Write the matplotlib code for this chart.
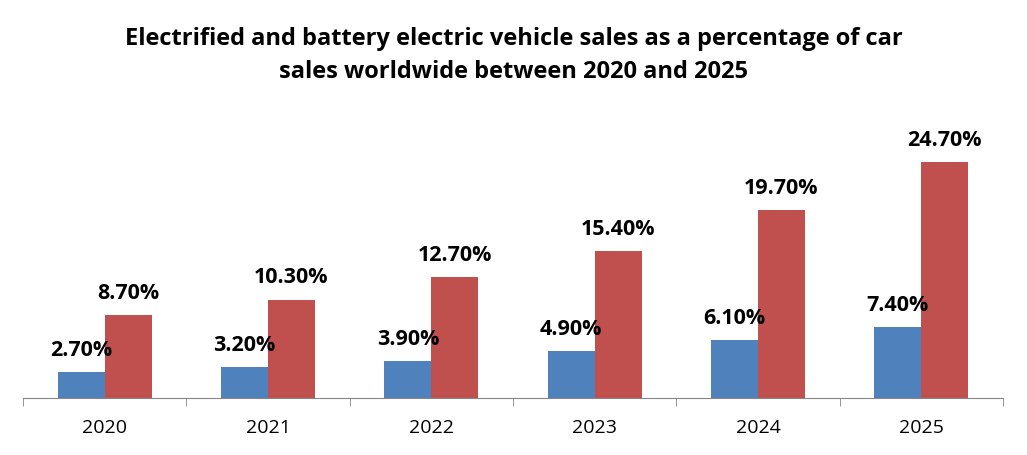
import matplotlib
matplotlib.use("Agg")
from matplotlib import pyplot as plt
import numpy as np

years = ["2020", "2021", "2022", "2023", "2024", "2025"]
bev_share = [2.7, 3.2, 3.9, 4.9, 6.1, 7.4]
electrified_share = [8.7, 10.3, 12.7, 15.4, 19.7, 24.7]

title = ("Electrified and battery electric vehicle sales as a percentage of car\n"
         "sales worldwide between 2020 and 2025")

plt.rcParams['font.family'] = ['Open Sans', 'DejaVu Sans']

fig = plt.figure(figsize=(10.27, 4.55), dpi=100)
ax = fig.add_axes([0.0224, 0.1253, 0.9542, 0.63])

x = np.arange(len(years))
w = 0.287
b1 = ax.bar(x - w / 2, bev_share, w, color="#4F81BD")
b2 = ax.bar(x + w / 2, electrified_share, w, color="#C0504D")

for bars, vals in ((b1, bev_share), (b2, electrified_share)):
    for r, v in zip(bars, vals):
        ax.annotate(f"{v:.2f}%", (r.get_x() + r.get_width() / 2, v),
                    xytext=(0, 8), textcoords="offset points",
                    ha="center", va="bottom", fontsize=15.5, fontweight="bold")

ax.set_xlim(-0.5, len(years) - 0.5)
ax.set_ylim(0, 30)
for s in ("top", "right", "left"):
    ax.spines[s].set_visible(False)
ax.spines["bottom"].set_color("#868686")
ax.set_yticks([])

ax.set_xticks(x)
ax.set_xticklabels(years, fontsize=14)
ax.tick_params(axis="x", which="major", length=0, pad=15)
ax.set_xticks(np.arange(-0.5, len(years)), minor=True)
ax.tick_params(axis="x", which="minor", length=6, color="#868686")

fig.text(0.5, 0.878, title, ha="center", va="center", fontsize=17,
         fontweight="bold", linespacing=1.55)

fig.savefig("out.png", dpi=100)
